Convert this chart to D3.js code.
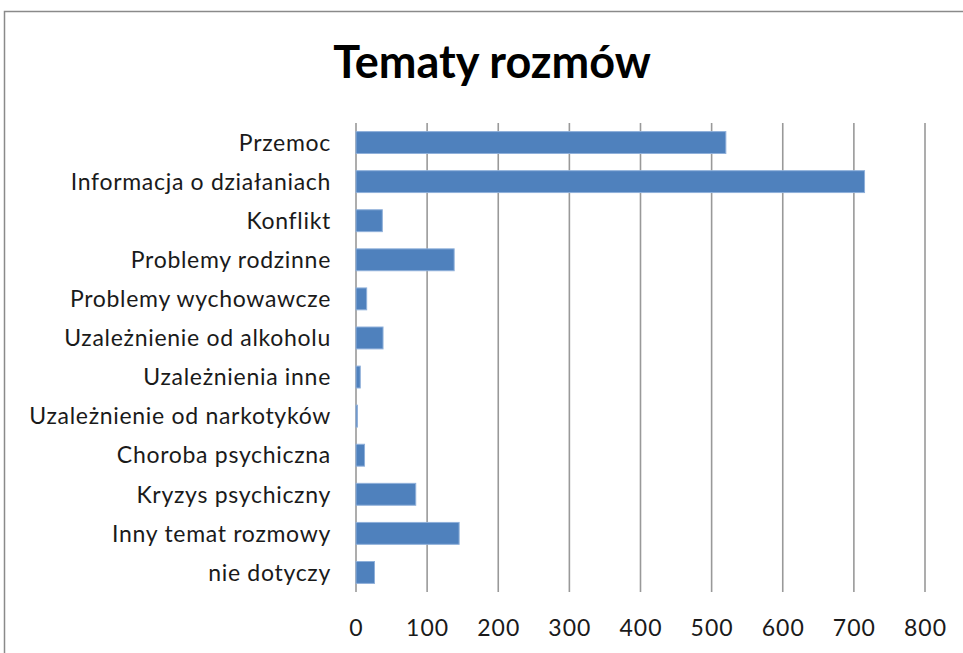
<!DOCTYPE html>
<html>
<head>
<meta charset="utf-8">
<script src="https://cdn.jsdelivr.net/npm/d3@7"></script>
<style>
  body { margin: 0; background: #fff; }
  text { font-family: Lato, "Open Sans", sans-serif; fill: #1a1a1a; }
</style>
</head>
<body>
<script>
var categories = ["Przemoc", "Informacja o działaniach", "Konflikt", "Problemy rodzinne",
    "Problemy wychowawcze", "Uzależnienie od alkoholu", "Uzależnienia inne",
    "Uzależnienie od narkotyków", "Choroba psychiczna", "Kryzys psychiczny",
    "Inny temat rozmowy", "nie dotyczy"];
var values = [520, 715, 37, 138, 15, 38, 6, 2, 12, 84, 145, 26];
var xTicks = [0, 100, 200, 300, 400, 500, 600, 700, 800];
var title = "Tematy rozmów";

var width = 963, height = 653;
var plotLeft = 356, plotRight = 925, plotTop = 123, plotBottom = 592;

var svg = d3.select("body").append("svg")
    .attr("width", width)
    .attr("height", height);

// outer chart border
svg.append("rect")
    .attr("x", 4.5).attr("y", 11.5)
    .attr("width", 970).attr("height", 660)
    .attr("fill", "none")
    .attr("stroke", "#8a8a8a")
    .attr("stroke-width", 1.5);

svg.append("text")
    .attr("x", 492).attr("y", 78)
    .attr("text-anchor", "middle")
    .style("font-size", "45px")
    .style("font-weight", "bold")
    .style("fill", "#000")
    .text(title);

var x = d3.scaleLinear().domain([0, 800]).range([plotLeft, plotRight]);
var y = d3.scaleBand().domain(categories).range([plotTop, plotBottom]).paddingInner(0.44).paddingOuter(0.22);

// gridlines
svg.append("g")
    .selectAll("line")
    .data(xTicks)
    .enter()
    .append("line")
    .attr("x1", function(d) { return x(d); })
    .attr("x2", function(d) { return x(d); })
    .attr("y1", plotTop)
    .attr("y2", plotBottom)
    .attr("stroke", "#999")
    .attr("stroke-width", 1.6);

// x axis labels
var xAxis = d3.axisBottom(x).tickValues(xTicks).tickSize(0).tickPadding(0);
var gx = svg.append("g")
    .attr("transform", "translate(0," + plotBottom + ")")
    .call(xAxis);
gx.select(".domain").remove();
gx.selectAll("text")
    .attr("y", 0)
    .attr("dy", "44px")
    .style("font-size", "23px")
    .style("letter-spacing", "1px")
    .style("font-family", "Lato, 'Open Sans', sans-serif")
    .style("fill", "#1a1a1a");

// y axis labels
var yAxis = d3.axisLeft(y).tickSize(0).tickPadding(0);
var gy = svg.append("g")
    .attr("transform", "translate(331,0)")
    .call(yAxis);
gy.select(".domain").remove();
gy.selectAll("text")
    .attr("dy", "0.36em")
    .style("font-size", "23px")
    .style("letter-spacing", "0.7px")
    .style("font-family", "Lato, 'Open Sans', sans-serif")
    .style("fill", "#1a1a1a");

// bars
svg.append("g")
    .selectAll("rect")
    .data(values)
    .enter()
    .append("rect")
    .attr("x", x(0))
    .attr("y", function(d, i) { return y(categories[i]); })
    .attr("width", function(d) { return x(d) - x(0); })
    .attr("height", y.bandwidth())
    .attr("fill", "#4f81bd")
    .attr("stroke", "#8fb0da")
    .attr("stroke-width", 1);
</script>
</body>
</html>
